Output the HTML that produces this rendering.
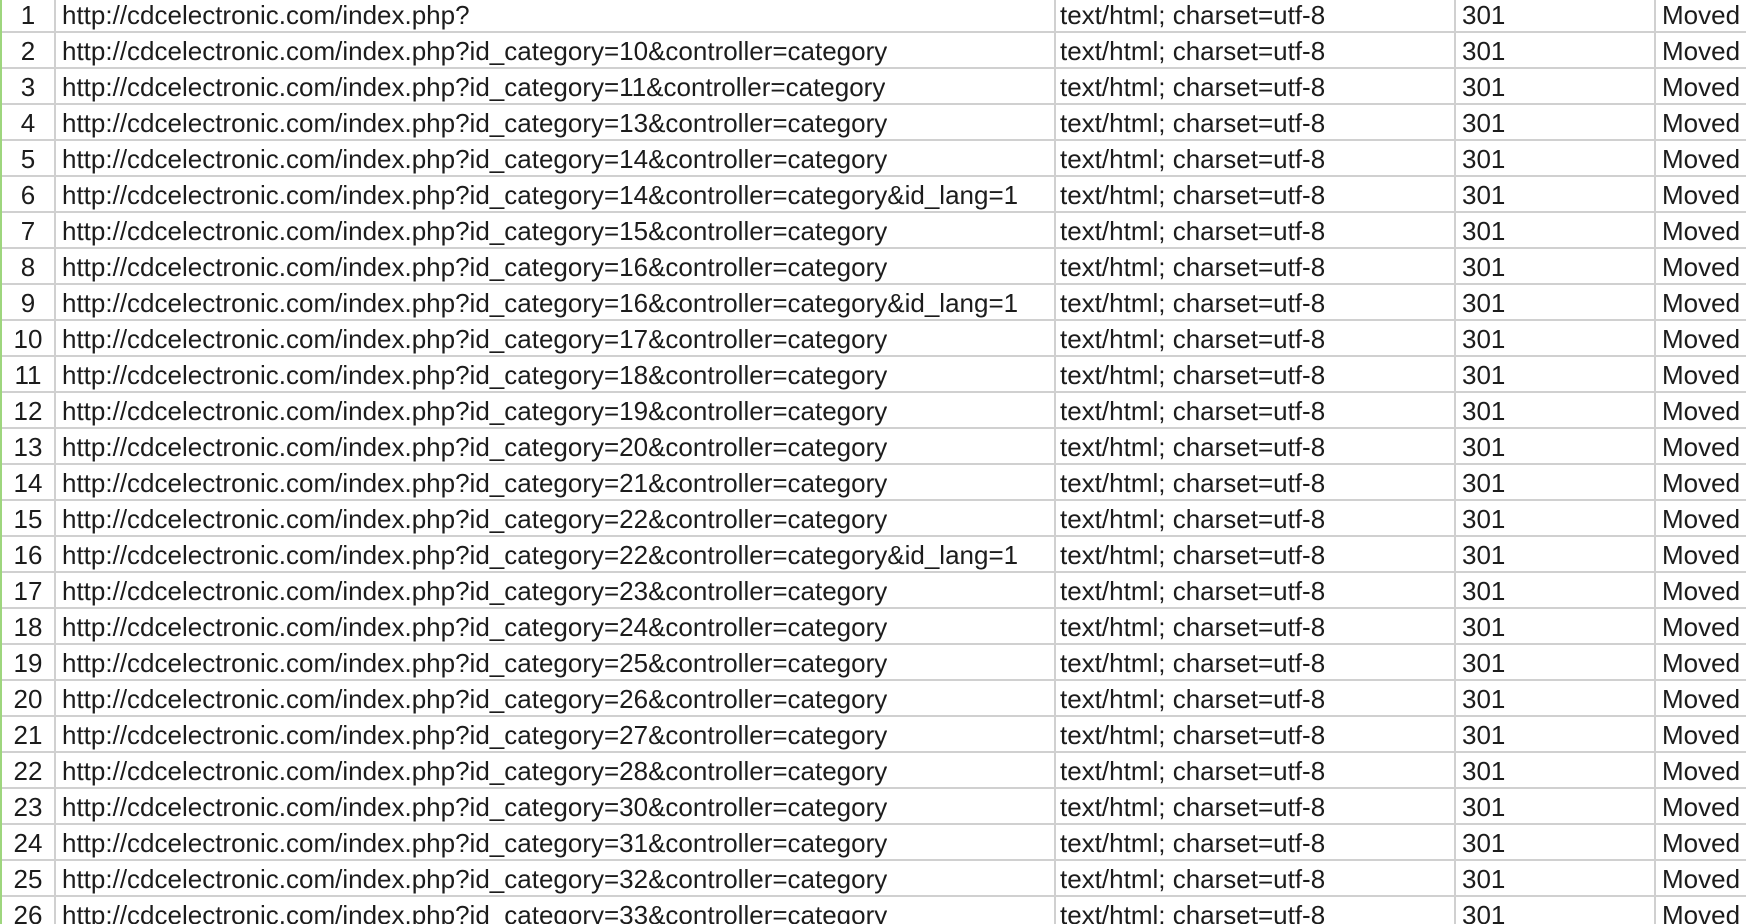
<!DOCTYPE html>
<html><head><meta charset="utf-8"><style>
html,body{margin:0;padding:0;background:#fff;width:1746px;height:924px;overflow:hidden}
body{position:relative;font-family:"Liberation Sans",Arial,sans-serif;font-size:26px;color:#1c1c1c}
.g{position:absolute;left:0;top:0;width:2px;height:924px;background:#9ed67e}
.r{position:absolute;left:2px;width:1744px;height:36px;border-bottom:2px solid #d0d0d0;box-sizing:border-box}
.c{position:absolute;top:0;height:34px;line-height:37px;white-space:nowrap;overflow:hidden}
.n{left:0;width:52px;text-align:center}
.v{position:absolute;top:0;width:2px;height:924px;background:#d0d0d0}
</style></head><body>
<div class="g"></div>
<div class="r" style="top:-3px"><div class="c n">1</div><div class="c" style="left:60px">http://cdcelectronic.com/index.php?</div><div class="c" style="left:1058px">text/html; charset=utf-8</div><div class="c" style="left:1460px">301</div><div class="c" style="left:1660px">Moved</div></div>
<div class="r" style="top:33px"><div class="c n">2</div><div class="c" style="left:60px">http://cdcelectronic.com/index.php?id_category=10&amp;controller=category</div><div class="c" style="left:1058px">text/html; charset=utf-8</div><div class="c" style="left:1460px">301</div><div class="c" style="left:1660px">Moved</div></div>
<div class="r" style="top:69px"><div class="c n">3</div><div class="c" style="left:60px">http://cdcelectronic.com/index.php?id_category=11&amp;controller=category</div><div class="c" style="left:1058px">text/html; charset=utf-8</div><div class="c" style="left:1460px">301</div><div class="c" style="left:1660px">Moved</div></div>
<div class="r" style="top:105px"><div class="c n">4</div><div class="c" style="left:60px">http://cdcelectronic.com/index.php?id_category=13&amp;controller=category</div><div class="c" style="left:1058px">text/html; charset=utf-8</div><div class="c" style="left:1460px">301</div><div class="c" style="left:1660px">Moved</div></div>
<div class="r" style="top:141px"><div class="c n">5</div><div class="c" style="left:60px">http://cdcelectronic.com/index.php?id_category=14&amp;controller=category</div><div class="c" style="left:1058px">text/html; charset=utf-8</div><div class="c" style="left:1460px">301</div><div class="c" style="left:1660px">Moved</div></div>
<div class="r" style="top:177px"><div class="c n">6</div><div class="c" style="left:60px">http://cdcelectronic.com/index.php?id_category=14&amp;controller=category&amp;id_lang=1</div><div class="c" style="left:1058px">text/html; charset=utf-8</div><div class="c" style="left:1460px">301</div><div class="c" style="left:1660px">Moved</div></div>
<div class="r" style="top:213px"><div class="c n">7</div><div class="c" style="left:60px">http://cdcelectronic.com/index.php?id_category=15&amp;controller=category</div><div class="c" style="left:1058px">text/html; charset=utf-8</div><div class="c" style="left:1460px">301</div><div class="c" style="left:1660px">Moved</div></div>
<div class="r" style="top:249px"><div class="c n">8</div><div class="c" style="left:60px">http://cdcelectronic.com/index.php?id_category=16&amp;controller=category</div><div class="c" style="left:1058px">text/html; charset=utf-8</div><div class="c" style="left:1460px">301</div><div class="c" style="left:1660px">Moved</div></div>
<div class="r" style="top:285px"><div class="c n">9</div><div class="c" style="left:60px">http://cdcelectronic.com/index.php?id_category=16&amp;controller=category&amp;id_lang=1</div><div class="c" style="left:1058px">text/html; charset=utf-8</div><div class="c" style="left:1460px">301</div><div class="c" style="left:1660px">Moved</div></div>
<div class="r" style="top:321px"><div class="c n">10</div><div class="c" style="left:60px">http://cdcelectronic.com/index.php?id_category=17&amp;controller=category</div><div class="c" style="left:1058px">text/html; charset=utf-8</div><div class="c" style="left:1460px">301</div><div class="c" style="left:1660px">Moved</div></div>
<div class="r" style="top:357px"><div class="c n">11</div><div class="c" style="left:60px">http://cdcelectronic.com/index.php?id_category=18&amp;controller=category</div><div class="c" style="left:1058px">text/html; charset=utf-8</div><div class="c" style="left:1460px">301</div><div class="c" style="left:1660px">Moved</div></div>
<div class="r" style="top:393px"><div class="c n">12</div><div class="c" style="left:60px">http://cdcelectronic.com/index.php?id_category=19&amp;controller=category</div><div class="c" style="left:1058px">text/html; charset=utf-8</div><div class="c" style="left:1460px">301</div><div class="c" style="left:1660px">Moved</div></div>
<div class="r" style="top:429px"><div class="c n">13</div><div class="c" style="left:60px">http://cdcelectronic.com/index.php?id_category=20&amp;controller=category</div><div class="c" style="left:1058px">text/html; charset=utf-8</div><div class="c" style="left:1460px">301</div><div class="c" style="left:1660px">Moved</div></div>
<div class="r" style="top:465px"><div class="c n">14</div><div class="c" style="left:60px">http://cdcelectronic.com/index.php?id_category=21&amp;controller=category</div><div class="c" style="left:1058px">text/html; charset=utf-8</div><div class="c" style="left:1460px">301</div><div class="c" style="left:1660px">Moved</div></div>
<div class="r" style="top:501px"><div class="c n">15</div><div class="c" style="left:60px">http://cdcelectronic.com/index.php?id_category=22&amp;controller=category</div><div class="c" style="left:1058px">text/html; charset=utf-8</div><div class="c" style="left:1460px">301</div><div class="c" style="left:1660px">Moved</div></div>
<div class="r" style="top:537px"><div class="c n">16</div><div class="c" style="left:60px">http://cdcelectronic.com/index.php?id_category=22&amp;controller=category&amp;id_lang=1</div><div class="c" style="left:1058px">text/html; charset=utf-8</div><div class="c" style="left:1460px">301</div><div class="c" style="left:1660px">Moved</div></div>
<div class="r" style="top:573px"><div class="c n">17</div><div class="c" style="left:60px">http://cdcelectronic.com/index.php?id_category=23&amp;controller=category</div><div class="c" style="left:1058px">text/html; charset=utf-8</div><div class="c" style="left:1460px">301</div><div class="c" style="left:1660px">Moved</div></div>
<div class="r" style="top:609px"><div class="c n">18</div><div class="c" style="left:60px">http://cdcelectronic.com/index.php?id_category=24&amp;controller=category</div><div class="c" style="left:1058px">text/html; charset=utf-8</div><div class="c" style="left:1460px">301</div><div class="c" style="left:1660px">Moved</div></div>
<div class="r" style="top:645px"><div class="c n">19</div><div class="c" style="left:60px">http://cdcelectronic.com/index.php?id_category=25&amp;controller=category</div><div class="c" style="left:1058px">text/html; charset=utf-8</div><div class="c" style="left:1460px">301</div><div class="c" style="left:1660px">Moved</div></div>
<div class="r" style="top:681px"><div class="c n">20</div><div class="c" style="left:60px">http://cdcelectronic.com/index.php?id_category=26&amp;controller=category</div><div class="c" style="left:1058px">text/html; charset=utf-8</div><div class="c" style="left:1460px">301</div><div class="c" style="left:1660px">Moved</div></div>
<div class="r" style="top:717px"><div class="c n">21</div><div class="c" style="left:60px">http://cdcelectronic.com/index.php?id_category=27&amp;controller=category</div><div class="c" style="left:1058px">text/html; charset=utf-8</div><div class="c" style="left:1460px">301</div><div class="c" style="left:1660px">Moved</div></div>
<div class="r" style="top:753px"><div class="c n">22</div><div class="c" style="left:60px">http://cdcelectronic.com/index.php?id_category=28&amp;controller=category</div><div class="c" style="left:1058px">text/html; charset=utf-8</div><div class="c" style="left:1460px">301</div><div class="c" style="left:1660px">Moved</div></div>
<div class="r" style="top:789px"><div class="c n">23</div><div class="c" style="left:60px">http://cdcelectronic.com/index.php?id_category=30&amp;controller=category</div><div class="c" style="left:1058px">text/html; charset=utf-8</div><div class="c" style="left:1460px">301</div><div class="c" style="left:1660px">Moved</div></div>
<div class="r" style="top:825px"><div class="c n">24</div><div class="c" style="left:60px">http://cdcelectronic.com/index.php?id_category=31&amp;controller=category</div><div class="c" style="left:1058px">text/html; charset=utf-8</div><div class="c" style="left:1460px">301</div><div class="c" style="left:1660px">Moved</div></div>
<div class="r" style="top:861px"><div class="c n">25</div><div class="c" style="left:60px">http://cdcelectronic.com/index.php?id_category=32&amp;controller=category</div><div class="c" style="left:1058px">text/html; charset=utf-8</div><div class="c" style="left:1460px">301</div><div class="c" style="left:1660px">Moved</div></div>
<div class="r" style="top:897px"><div class="c n">26</div><div class="c" style="left:60px">http://cdcelectronic.com/index.php?id_category=33&amp;controller=category</div><div class="c" style="left:1058px">text/html; charset=utf-8</div><div class="c" style="left:1460px">301</div><div class="c" style="left:1660px">Moved</div></div>
<div class="v" style="left:54px"></div>
<div class="v" style="left:1054px"></div>
<div class="v" style="left:1454px"></div>
<div class="v" style="left:1654px"></div>
</body></html>
